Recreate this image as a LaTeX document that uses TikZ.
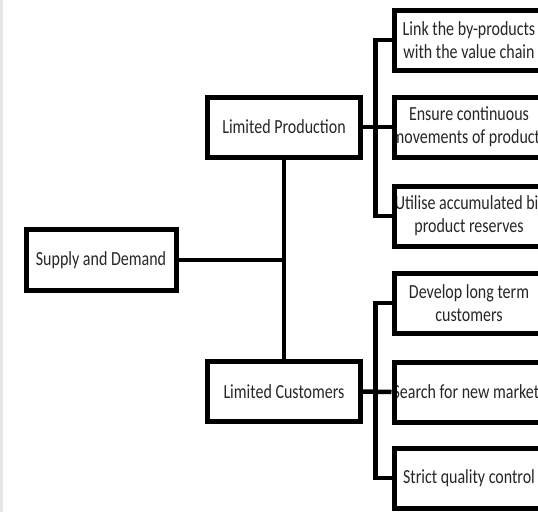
\documentclass[tikz,border=0pt]{standalone}
\usepackage{fontspec}
\setmainfont{Carlito}[FakeStretch=0.8]
\begin{document}
\begin{tikzpicture}[x=1pt,y=-1pt,
  txt/.style={inner sep=0pt, align=center, text=black!85,
    font=\fontsize{20}{23}\selectfont},
  frame/.style={draw, line width=5pt, minimum height=60pt, inner sep=0pt},
  mainframe/.style={frame, minimum width=153pt},
  leafframe/.style={frame, minimum width=150pt},
  link/.style={line width=4.5pt}]
\useasboundingbox (0,0) rectangle (538,512);
\clip (0,0) rectangle (538,512);
\fill[black!10] (0,0) rectangle (2.5,512);

% texts first, so the thick frames sit on top of any overflowing line
\node[txt] (sdt) at (101,260)   {Supply and Demand};
\node[txt] (lpt) at (284,127)   {Limited Production};
\node[txt] (lct) at (284,391.5) {Limited Customers};
\node[txt] (r1t) at (469,40)    {Link the by-products\\with the value chain};
\node[txt] (r2t) at (469,127)   {Ensure continuous\\movements of products};
\node[txt] (r3t) at (469,216)   {Utilise accumulated bi-\\product reserves};
\node[txt] (r4t) at (469,303)   {Develop long term\\customers};
\node[txt] (r5t) at (469,392)   {Search for new markets};
\node[txt] (r6t) at (469,478)   {Strict quality control};

% frames
\node[frame, minimum width=150pt, minimum height=61pt] (sd) at (sdt.center) {};
\node[mainframe] (lp) at (lpt.center) {};
\node[mainframe] (lc) at (lct.center) {};
\node[leafframe] (r1) at (r1t.center) {};
\node[leafframe] (r2) at (r2t.center) {};
\node[leafframe] (r3) at (r3t.center) {};
\node[leafframe] (r4) at (r4t.center) {};
\node[leafframe] (r5) at (r5t.center) {};
\node[leafframe] (r6) at (r6t.center) {};

% connectors
\coordinate (bus) at (375.5,0);
\draw[link] (lp.south) -- (lc.north);
\draw[link] (sd.east) -- (sd.east -| lp.center);
\draw[link] (lp.east) -- (r2.west);
\draw[link] (r1.west) -- (r1.west -| bus) -- (r3.west -| bus) -- (r3.west);
\draw[link] (lc.east) -- (r5.west);
\draw[link] (r4.west) -- (r4.west -| bus) -- (r6.west -| bus) -- (r6.west);
\end{tikzpicture}
\end{document}
